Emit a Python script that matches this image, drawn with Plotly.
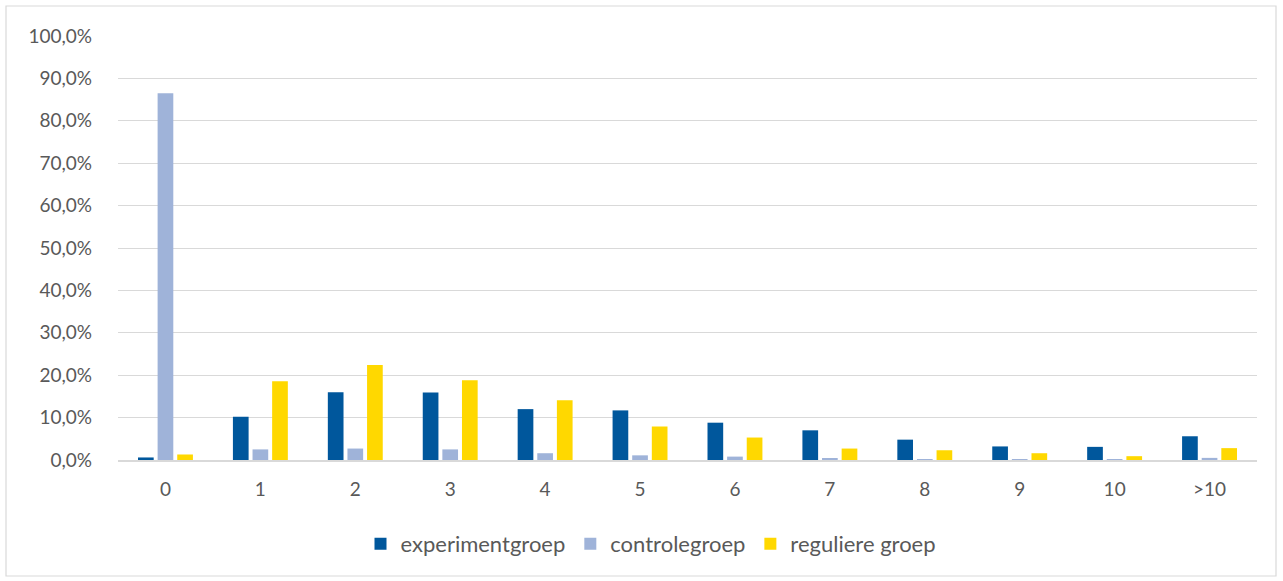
import plotly.graph_objects as go

categories = ["0", "1", "2", "3", "4", "5", "6", "7", "8", "9", "10", ">10"]
experimentgroep = [0.6, 10.2, 16.0, 15.9, 12.0, 11.7, 8.8, 7.0, 4.8, 3.2, 3.1, 5.6]
controlegroep = [86.5, 2.5, 2.7, 2.5, 1.6, 1.1, 0.8, 0.4, 0.1, 0.2, 0.2, 0.5]
reguliere_groep = [1.3, 18.6, 22.4, 18.8, 14.1, 7.9, 5.3, 2.7, 2.3, 1.6, 0.9, 2.8]
y_ticks = [0, 10, 20, 30, 40, 50, 60, 70, 80, 90, 100]
y_ticktext = [f"{v},0%" for v in y_ticks]

font_family = "Lato, 'Open Sans', sans-serif"
text_color = "#595959"

fig = go.Figure()
for name, vals, color in [
    ("experimentgroep", experimentgroep, "#00579C"),
    ("controlegroep", controlegroep, "#9FB3D9"),
    ("reguliere groep", reguliere_groep, "#FFD800"),
]:
    fig.add_trace(go.Bar(x=categories, y=vals, name=name, marker=dict(color=color, line=dict(width=0)),
                         hovertemplate="%{x}: %{y:.1f}%<extra>" + name + "</extra>"))

W, H = 1283, 581
L, T = 118, 36
plot_right, plot_bottom = 1257, 460
R, B = W - plot_right, H - plot_bottom
pw = W - L - R
ph = H - T - B

fig.update_layout(
    width=W, height=H,
    margin=dict(l=L, r=R, t=T, b=B, autoexpand=False),
    paper_bgcolor="white", plot_bgcolor="white",
    barmode="group", bargap=0.38, bargroupgap=0.2,
    font=dict(family=font_family, size=19, color=text_color),
    legend=dict(orientation="h", x=(651 - L) / pw, xanchor="center", y=(plot_bottom - 544) / ph,
                yanchor="middle", font=dict(size=22, color=text_color), itemwidth=30,
                traceorder="normal"),
    xaxis=dict(type="category", showgrid=False, showline=True, linecolor="#D9D9D9", linewidth=1.5,
               ticks="", ticklabelstandoff=11, tickfont=dict(size=19, color=text_color)),
    yaxis=dict(range=[0, 100], tickmode="array", tickvals=y_ticks, ticktext=y_ticktext,
               showgrid=True, gridcolor="#D9D9D9", gridwidth=1.2, zeroline=False,
               showline=False, ticks="", ticklabelstandoff=25,
               tickfont=dict(size=19, color=text_color)),
    shapes=[dict(type="rect", xref="paper", yref="paper",
                 x0=(6 - L) / pw, x1=(1276 - L) / pw,
                 y0=(plot_bottom - 576) / ph, y1=(plot_bottom - 6) / ph,
                 line=dict(color="#D9D9D9", width=1.2), fillcolor="rgba(0,0,0,0)", layer="below")],
)

fig.write_html("out.html", config={"displayModeBar": False},
               post_script="document.body.style.margin='0';document.body.style.overflow='hidden';")
